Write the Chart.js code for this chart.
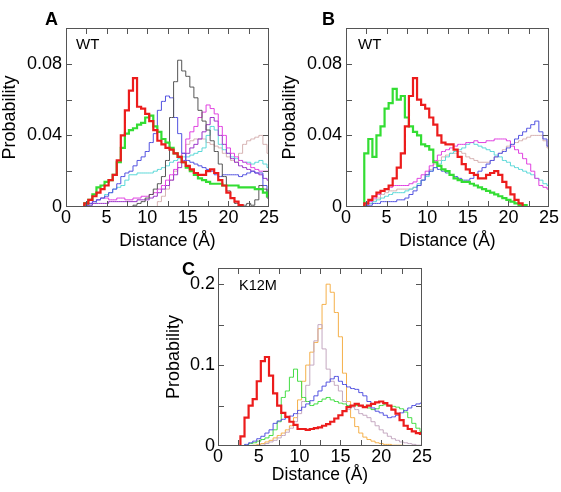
<!DOCTYPE html>
<html>
<head>
<meta charset="utf-8">
<script src="https://cdn.jsdelivr.net/npm/chart.js@4.4.1/dist/chart.umd.min.js"></script>
<style>
body { margin: 0; background: #fff; }
#fig { position: relative; width: 561px; height: 492px; font-family: 'Liberation Sans', Arial, sans-serif; }
.box { position: absolute; }
.lbl { position: absolute; font-weight: bold; font-size: 18px; line-height: 18px; }
.tag { position: absolute; font-size: 15px; line-height: 15px; }
</style>
</head>
<body>
<div id="fig">
    <div class="box" style="left:0;top:0"><canvas id="chartA" width="280" height="250"></canvas></div>
    <div class="box" style="left:280px;top:0"><canvas id="chartB" width="281" height="250"></canvas></div>
    <div class="box" style="left:150px;top:250px"><canvas id="chartC" width="290" height="242"></canvas></div>
    <div class="lbl" style="left:45px;top:10px">A</div>
    <div class="lbl" style="left:322px;top:10px">B</div>
    <div class="lbl" style="left:182px;top:260px">C</div>
    <div class="tag" style="left:76px;top:36px">WT</div>
    <div class="tag" style="left:358px;top:36px">WT</div>
    <div class="tag" style="left:239px;top:278px;font-size:14.5px">K12M</div>
</div>
<script>
// bin centres (Å)
const dist = [0, 0.5, 1, 1.5, 2, 2.5, 3, 3.5, 4, 4.5, 5, 5.5, 6, 6.5, 7, 7.5, 8, 8.5, 9, 9.5,
    10, 10.5, 11, 11.5, 12, 12.5, 13, 13.5, 14, 14.5, 15, 15.5, 16, 16.5, 17, 17.5, 18, 18.5, 19, 19.5,
    20, 20.5, 21, 21.5, 22, 22.5, 23, 23.5, 24, 24.5, 25]
const xTicks = [0, 5, 10, 15, 20, 25]
const yTicksAB = [0, 0.04, 0.08]
const yTicksC = [0, 0.1, 0.2]

// panel A (WT)
const a_red = [0,0,0,0,0, .002,.004,.006,.008,.010,.012,.015,.018,.026,.040, .054,.065,.072,.056,.055,.052,.048,.043,.037,.035,
    .033,.032,.030,.028,.025,.023,.021,.019,.018,.018, .020,.021,.019,.015,.012,.008,.005,.003,.001, 0,0,0,0,0,0,0]
const a_green = [0,0,0,0,0, .002,.004,.007,.011,.012,.014,.015,.018,.025,.033, .041,.043,.044,.046,.047,.050,.051,.045,.042,.038,
    .036,.033,.030,.028,.025,.022,.020,.018,.016,.015, .014,.013,.013,.013,.012,.012,.012,.012,.011,.011, .011,.011,.010,.010,.008,.006]
const a_blue = [0,0,0,0,0, .001,.002,.003,.004,.005,.006,.008,.010,.013,.017, .019,.020,.023,.026,.028,.031,.036,.041,.054,.059,
    .062,.061,.050,.041,.030,.026,.025,.024,.023,.022, .021,.020,.018,.017,.018,.018,.018,.018,.017,.018, .019,.020,.019,.019,.012,.007]
const a_gray = [0,0,0,0,0,0,0,0,0,0,0,0,0,0,0,0,0, .001,.002,.003,.005,.007,.010,.013,.017,.026,.050,
    .070,.082,.076,.073,.067,.061,.054,.048,.043,.037, .031,.024,.017,.009,.005,.002,.001,.001,.002,.001, .004,.012,.010,.005]
const a_magenta = [0,0,0,0,0, .001,.002,.003,.004,.005,.005,.004,.004,.005,.005, .004,.004,.005,.005,.006,.006,.007,.008,.010,.012,
    .015,.018,.021,.025,.030,.038,.042,.045,.050,.053, .057,.055,.052,.045,.040,.033,.030,.028,.026,.025, .024,.022,.021,.020,.020,.020]
const a_purple = [0,0,0,0,0, .001,.001,.002,.002,.002,.002,.003,.003,.003,.003, .003,.003,.003,.004,.004,.004,.005,.006,.008,.010,
    .012,.015,.018,.022,.026,.030,.033,.035,.038,.042, .046,.050,.048,.040,.035,.030,.027,.025,.023,.022, .021,.020,.019,.018,.016,.015]
const a_cyan = [0,0,0,0,0, .001,.001,.002,.004,.005,.007,.008,.010,.011,.012, .015,.018,.018,.019,.019,.019,.019,.020,.021,.022,
    .023,.025,.026,.027,.028,.028,.029,.030,.031,.033, .040,.045,.043,.035,.032,.030,.028,.027,.026,.025, .025,.024,.025,.026,.024,.022]
const a_rosy = [0,0,0,0,0,0,0,0,0,0,0,0,0,0,0,0,0,0,0,0,0,0,0, .003,.006,.010,.015,.020,.025,.030,.035,.037,.038,
    .038,.038,.036,.035,.034,.033,.030,.028,.026,.025, .030,.035,.037,.038,.039,.040,.035,.030]

// panel B (WT)
const b_green = [0,0,0,0,0, .030,.038,.028,.040,.045,.055,.058,.066,.060,.062, .050,.045,.042,.040,.035,.034,.032,.025,.023,.021,
    .020,.018,.016,.015,.014,.014,.013,.012,.011,.010, .009,.008,.007,.006,.005,.004,.003,.002,.001,.001, 0,0,0,0,0,0]
const b_red = [0,0,0,0,0, .002,.004,.006,.008,.009,.010,.012,.016,.022,.030, .045,.062,.072,.060,.057,.055,.050,.046,.040,.036,
    .035,.035,.032,.028,.024,.021,.019,.018,.016,.016, .018,.019,.020,.018,.014,.011,.007,.004,.002, 0,0,0,0,0,0,0]
const b_blue = [0,0,0,0,0, .001,.001,.002,.002,.003,.003,.003,.003,.004,.004, .005,.007,.009,.012,.015,.018,.020,.022,.021,.020,
    .019,.018,.017,.016,.015,.015,.016,.018,.020,.022, .024,.026,.028,.030,.031,.033,.035,.038,.040,.042, .044,.046,.048,.042,.038,.034]
const b_magenta = [0,0,0,0,0, .001,.003,.005,.007,.009,.010,.011,.012,.012,.012, .012,.013,.014,.016,.018,.020,.023,.026,.029,.031,
    .032,.033,.034,.035,.035,.036,.036,.037,.036,.036, .037,.037,.038,.038,.038,.037,.034,.032,.030,.027, .024,.020,.016,.012,.011,.010]
const b_cyan = [0,0,0,0,0, .001,.002,.003,.004,.005,.006,.007,.008,.008,.008, .009,.010,.011,.013,.015,.017,.020,.022,.024,.026,
    .028,.030,.031,.032,.033,.035,.036,.035,.034,.033, .032,.031,.029,.028,.026,.025,.023,.022,.021,.020, .019,.018,.016,.015,.013,.012]
const b_rosy = [0,0,0,0,0, .001,.002,.004,.005,.007,.008,.009,.009,.010,.010, .010,.010,.011,.012,.015,.018,.021,.024,.026,.028,
    .029,.030,.030,.031,.030,.028,.027,.026,.025,.025, .025,.026,.028,.030,.032,.034,.035,.036,.037,.038, .039,.040,.040,.040,.037,.033]

// panel C (K12M)
const c_red = [0,0,0,0,0,0, .012,.035,.050,.058,.080,.105,.110,.087,.065,.050, .041,.036,.030,.026,.021,.021,.020,.021,.022,.023,
    .025,.027,.030,.034,.038,.043,.048,.050,.052,.050, .048,.050,.052,.054,.055,.053,.050,.045,.040,.032, .025,.021,.018,.016,.015]
const c_green = [0,0,0,0,0,0,0, .001,.003,.004,.006,.008,.010,.013, .020,.030,.060,.068,.085,.095,.080,.060,.055,.050,
    .052,.055,.058,.060,.057,.055,.053,.052,.050,.050, .050,.050,.049,.047,.045,.046,.050,.051,.050,.049, .048,.046,.042,.035,.028,.022,.018]
const c_blue = [0,0,0,0,0,0,0, .002,.004,.006,.009,.012,.016,.020, .028,.031,.033,.035,.037,.040,.044,.048,.052,.056,
    .062,.068,.074,.079,.083,.086,.080,.076,.073,.071, .070,.066,.062,.055,.047,.043,.041,.038,.035,.036, .038,.041,.044,.047,.050,.052,.053]
const c_orange = [0,0,0,0,0,0,0,0,0, .001,.002,.003,.005,.007,.010,.013,.016,.020, .025,.035,.057,.080,.100,.116,.128,.145,.175,.200,
    .190,.165,.135,.090,.055,.035,.024,.016,.011,.008, .006,.004,.003,.002,.002,.001,.001,.001,0,0, 0,0,0]
const c_thistle = [0,0,0,0,0,0,0,0,0,0,0, .001,.003,.005,.007,.010,.013,.017,.022,.030, .040,.055,.075,.100,.130,.150,.120,.095,.080,.075,
    .068,.055,.045,.048,.045,.040,.038,.035,.030,.025, .020,.016,.012,.009,.007,.005,.004,.003,.002,.001, .001]

const F = "'Liberation Sans', Arial, sans-serif"
const thick = 2.2
const thin = 1

const series = (vals, color, width) => ({
    data: dist.map((d, i) => ({ x: d, y: vals[i] })),
    borderColor: color,
    borderWidth: width,
    pointRadius: 0,
    stepped: 'middle',
    fill: false
})

// inward ticks on all four sides + frame
const frame = {
    id: 'frame',
    afterDatasetsDraw(chart, args, opts) {
        const { ctx, chartArea: a, scales: { x, y } } = chart
        ctx.save()
        ctx.strokeStyle = '#555'
        ctx.lineWidth = 1
        ctx.strokeRect(a.left + .5, a.top + .5, a.right - a.left - 1, a.bottom - a.top - 1)
        ctx.beginPath()
        for (let v = 2.5; v < 25; v += 2.5) {
            const px = Math.round(x.getPixelForValue(v)) + .5
            ctx.moveTo(px, a.bottom); ctx.lineTo(px, a.bottom - 6)
            ctx.moveTo(px, a.top); ctx.lineTo(px, a.top + 6)
        }
        for (let v = opts.yStep; v < y.max - 1e-9; v += opts.yStep) {
            const py = Math.round(y.getPixelForValue(v)) + .5
            ctx.moveTo(a.left, py); ctx.lineTo(a.left + 6, py)
            ctx.moveTo(a.right, py); ctx.lineTo(a.right - 6, py)
        }
        ctx.stroke()
        ctx.restore()
    }
}

const makeChart = (id, sets, yMax, yTicks, yStep, box) => new Chart(document.getElementById(id), {
    type: 'line',
    data: { datasets: sets },
    options: {
        responsive: false,
        animation: false,
        layout: { padding: { left: 0, top: box.top, right: box.right, bottom: 0 } },
        plugins: { legend: { display: false }, tooltip: { enabled: false }, frame: { yStep: yStep } },
        scales: {
            x: {
                type: 'linear', min: 0, max: 25,
                afterBuildTicks: s => { s.ticks = xTicks.map(v => ({ value: v })) },
                afterFit: s => { s.height = box.xh },
                grid: { display: false, drawTicks: false },
                border: { display: false },
                ticks: { color: '#000', font: { size: 18, family: F }, padding: 0, maxRotation: 0, autoSkip: false },
                title: { display: true, text: 'Distance (Å)', color: '#000', font: { size: 17.5, family: F, lineHeight: 1 }, padding: { top: 0, bottom: box.xtp } }
            },
            y: {
                min: 0, max: yMax,
                afterBuildTicks: s => { s.ticks = yTicks.map(v => ({ value: v })) },
                afterFit: s => { s.width = box.yw },
                grid: { display: false, drawTicks: false },
                border: { display: false },
                ticks: { color: '#000', font: { size: 18, family: F }, padding: box.ytp, callback: v => v === 0 ? '0' : String(v) },
                title: { display: true, text: 'Probability', color: '#000', font: { size: 18, family: F, lineHeight: 1 }, padding: { top: box.ytt, bottom: 0 } }
            }
        }
    },
    plugins: [frame]
})

makeChart('chartA', [
    series(a_red, '#ec1c1c', thick),
    series(a_green, '#33dd33', thick),
    series(a_gray, '#555555', thin),
    series(a_blue, '#5252e0', thin),
    series(a_magenta, '#e040e0', thin),
    series(a_purple, '#9a32c8', thin),
    series(a_cyan, '#5ad8d8', thin),
    series(a_rosy, '#d6b2b2', thin)
], 0.1, yTicksAB, 0.02, { top: 28, right: 11, xh: 43, yw: 66, xtp: 0, ytp: 4, ytt: 1 })

makeChart('chartB', [
    series(b_red, '#ec1c1c', thick),
    series(b_green, '#33dd33', thick),
    series(b_blue, '#5252e0', thin),
    series(b_magenta, '#e040e0', thin),
    series(b_cyan, '#5ad8d8', thin),
    series(b_rosy, '#d6b2b2', thin)
], 0.1, yTicksAB, 0.02, { top: 28, right: 12, xh: 43, yw: 66, xtp: 0, ytp: 4, ytt: 1 })

makeChart('chartC', [
    series(c_red, '#ec1c1c', thick),
    series(c_blue, '#5252e0', thin),
    series(c_green, '#44dd44', thin),
    series(c_thistle, '#c4a8c0', thin),
    series(c_orange, '#f5b04a', thin)
], 0.22, yTicksC, 0.05, { top: 18, right: 18, xh: 46, yw: 68, xtp: 8, ytp: 3, ytt: 15 })
</script>
</body>
</html>
